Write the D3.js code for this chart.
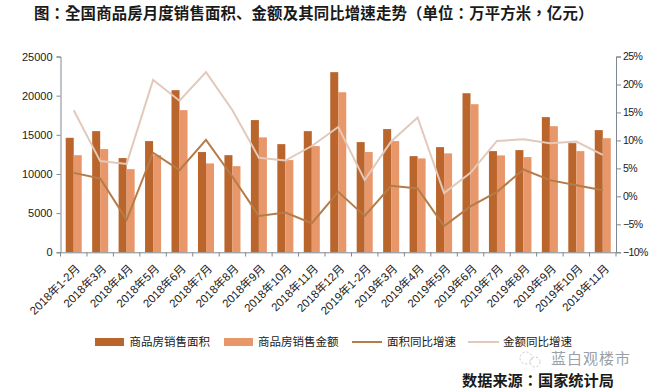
<!DOCTYPE html>
<html>
<head>
<meta charset="utf-8">
<script src="https://cdn.jsdelivr.net/npm/d3@7"></script>
<style>
body { margin: 0; background: #fff; }
text { font-family: "Liberation Sans", "Noto Sans CJK SC", sans-serif; fill: #1a1a1a; }
.cjk { font-family: "Noto Sans CJK SC", sans-serif; }
.cjk-tc { font-family: "Noto Sans CJK TC", sans-serif; }
</style>
</head>
<body>
<script>
var months = ['2018年1-2月','2018年3月','2018年4月','2018年5月','2018年6月','2018年7月','2018年8月','2018年9月','2018年10月','2018年11月','2018年12月',
    '2019年1-2月','2019年3月','2019年4月','2019年5月','2019年6月','2019年7月','2019年8月','2019年9月','2019年10月','2019年11月'];
var areaSales = [14620,15470,12030,14200,20700,12800,12400,16880,13810,15470,23000,14070,15730,12280,13430,20310,12920,13050,17260,13940,15600];
var amountSales = [12400,13180,10620,12400,18150,11350,11000,14670,11770,13560,20440,12800,14200,11990,12630,18910,12370,12150,16100,12920,14570];
var areaGrowth = [4.2,3.2,-4.2,7.8,4.7,10.1,3.5,-3.5,-2.9,-4.8,0.8,-3.5,1.9,1.4,-5.3,-1.8,0.8,4.8,2.9,2,1.1];
var amountGrowth = [15.4,6.3,5.8,20.8,17.1,22.2,15.4,6.9,6.4,9,12.4,2.9,9.8,14.1,0.6,4.2,9.9,10.2,9.5,9.8,7.4];
var leftTicks = [0,5000,10000,15000,20000,25000];
var rightTicks = [-10,-5,0,5,10,15,20,25];

var colorArea = '#b9652c', colorAmount = '#e8976a';
var colorAreaLine = '#b57c48', colorAmountLine = '#e2c9ba';
var axisColor = '#7f8890';

var svg = d3.select('body').append('svg').attr('width', 650).attr('height', 390);

var x = d3.scaleBand().domain(months).range([60.5, 616]);
var x1 = d3.scaleBand().domain(['area','amount']).range([0, x.bandwidth()]).paddingOuter(0.65);
var y = d3.scaleLinear().domain([0, 25000]).range([252.3, 56.5]);
var y2 = d3.scaleLinear().domain([-10, 25]).range([252.3, 56.5]);

// bars
svg.selectAll('.b1').data(areaSales).enter().append('rect')
    .attr('x', function(d,i) { return x(months[i]) + x1('area'); })
    .attr('y', function(d) { return y(d); })
    .attr('width', x1.bandwidth())
    .attr('height', function(d) { return y(0) - y(d); })
    .attr('fill', colorArea);
svg.selectAll('.b2').data(amountSales).enter().append('rect')
    .attr('x', function(d,i) { return x(months[i]) + x1('amount'); })
    .attr('y', function(d) { return y(d); })
    .attr('width', x1.bandwidth())
    .attr('height', function(d) { return y(0) - y(d); })
    .attr('fill', colorAmount);

// growth lines
var line = d3.line()
    .x(function(d,i) { return x(months[i]) + x.bandwidth() / 2; })
    .y(function(d) { return y2(d); });
svg.append('path').attr('d', line(amountGrowth)).attr('fill', 'none').attr('stroke', colorAmountLine).attr('stroke-width', 2);
svg.append('path').attr('d', line(areaGrowth)).attr('fill', 'none').attr('stroke', colorAreaLine).attr('stroke-width', 2);

// axes
var axisLeft = d3.axisLeft(y).tickValues(leftTicks).tickSize(4).tickPadding(4).tickFormat(d3.format('d'));
var axisRight = d3.axisRight(y2).tickValues(rightTicks).tickSize(5).tickPadding(2)
    .tickFormat(function(d) { return (d < 0 ? '\u2212' : '') + Math.abs(d) + '%'; });
var axisBottom = d3.axisBottom(x).tickSize(0).tickPadding(0);

var gl = svg.append('g').attr('transform', 'translate(60.5,0)').call(axisLeft);
var gr = svg.append('g').attr('transform', 'translate(616,0)').call(axisRight);
var gb = svg.append('g').attr('transform', 'translate(0,252.3)').call(axisBottom);
svg.selectAll('.domain, .tick line').attr('stroke', axisColor);
gl.selectAll('text').attr('font-size', 11).attr('font-family', null);
gr.selectAll('text').attr('font-size', 10.5).attr('font-family', null).attr('letter-spacing', -0.6);

// ticks sit on the band edges, not the centres
var edges = months.map(function(m) { return x(m); }).concat([616]);
svg.selectAll('.edge').data(edges).enter().append('line')
    .attr('x1', function(d) { return d; }).attr('x2', function(d) { return d; })
    .attr('y1', 252.3).attr('y2', 256.5)
    .attr('stroke', axisColor);

gb.selectAll('.tick text')
    .attr('font-size', 11.5)
    .attr('font-family', null)
    .attr('text-anchor', 'end')
    .attr('dy', 0)
    .attr('y', 0)
    .attr('transform', 'translate(7,17) rotate(-45)');

// legend
var legendY = 342;
function legendText(str, lx) {
    svg.append('text').attr('class', 'cjk').attr('x', lx).attr('y', legendY + 4).attr('font-size', 11.5).text(str);
}
svg.append('rect').attr('x', 95).attr('y', legendY - 4).attr('width', 29).attr('height', 8).attr('fill', colorArea);
legendText('商品房销售面积', 129.5);
svg.append('rect').attr('x', 224).attr('y', legendY - 4).attr('width', 29).attr('height', 8).attr('fill', colorAmount);
legendText('商品房销售金额', 258);
svg.append('line').attr('x1', 352).attr('x2', 382).attr('y1', legendY).attr('y2', legendY).attr('stroke', colorAreaLine).attr('stroke-width', 2);
legendText('面积同比增速', 387);
svg.append('line').attr('x1', 468).attr('x2', 499).attr('y1', legendY).attr('y2', legendY).attr('stroke', colorAmountLine).attr('stroke-width', 2);
legendText('金额同比增速', 503);

// title, watermark, source. TC font keeps the colon and brackets centred like the original
var title = svg.append('text').attr('class', 'cjk-tc').attr('x', 34).attr('y', 19).attr('font-size', 15.4).attr('font-weight', 700).attr('letter-spacing', 0.15);
title.append('tspan').text('图：全国商品房月度销售面积');
title.append('tspan').attr('class', 'cjk').text('、');
title.append('tspan').text('金额及其同比增速走势（单位：万平方米，亿元）');
svg.append('circle').attr('cx', 526).attr('cy', 358).attr('r', 6).attr('fill', 'none').attr('stroke', '#c4c8cc').attr('stroke-dasharray', '2 2');
svg.append('circle').attr('cx', 535).attr('cy', 362).attr('r', 5).attr('fill', 'none').attr('stroke', '#c4c8cc').attr('stroke-dasharray', '2 2');
svg.append('text').attr('class', 'cjk').attr('x', 551).attr('y', 364).attr('font-size', 15).attr('letter-spacing', 1).style('fill', '#9ba1a6').text('蓝白观楼市');
svg.append('text').attr('class', 'cjk-tc').attr('x', 462).attr('y', 386).attr('font-size', 15.2).attr('font-weight', 700).text('数据来源：国家统计局');
</script>
</body>
</html>
